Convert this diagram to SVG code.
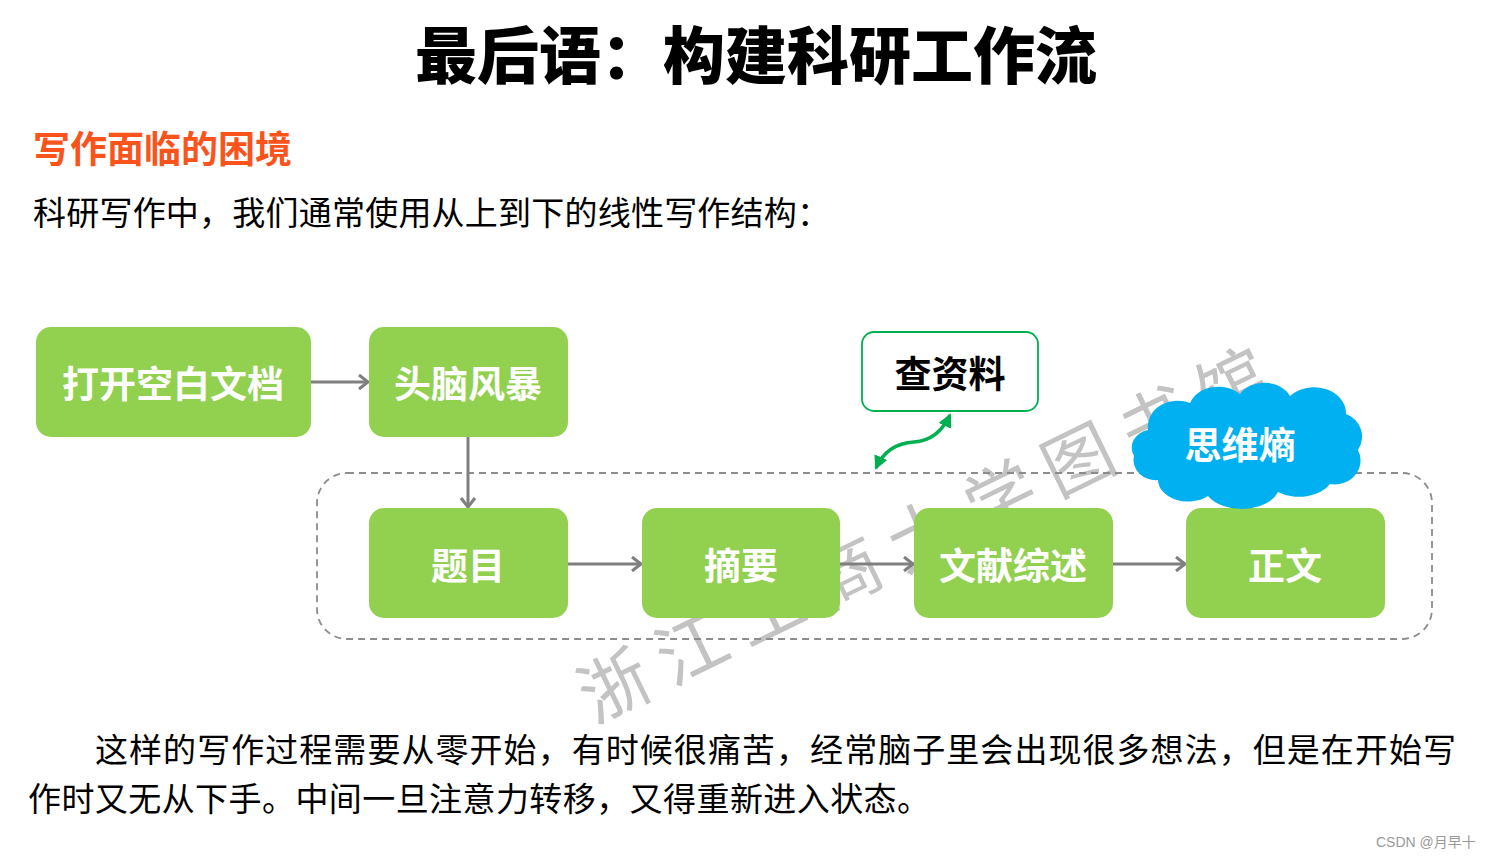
<svg xmlns="http://www.w3.org/2000/svg" width="1491" height="858" viewBox="0 0 1491 858">
<defs>
<style>
.cjk{font-family:"Noto Sans CJK SC","Noto Sans",sans-serif;}
.node rect{fill:#92D050;}
.nt{font-family:"Noto Sans CJK SC",sans-serif;font-weight:bold;font-size:37px;fill:#ffffff;text-anchor:middle;dominant-baseline:central;}
.conn{stroke:#7F7F7F;stroke-width:3;fill:none;}
</style>
<marker id="arr" markerUnits="userSpaceOnUse" markerWidth="16" markerHeight="18" refX="13" refY="9" orient="auto">
<path d="M4,2 L13,9 L4,16" fill="none" stroke="#7F7F7F" stroke-width="3" stroke-linejoin="miter"/>
</marker>
<marker id="garr" markerUnits="userSpaceOnUse" markerWidth="16" markerHeight="16" refX="12" refY="8" orient="auto-start-reverse">
<path d="M0,1 L14,8 L0,15 Z" fill="#00B050"/>
</marker>
</defs>
<rect width="1491" height="858" fill="#ffffff"/>

<text class="cjk" x="756" y="52" font-size="62" font-weight="900" text-anchor="middle" dominant-baseline="central" fill="#000">最后语：构建科研工作流</text>
<text class="cjk" x="33" y="147" font-size="37" font-weight="bold" dominant-baseline="central" fill="#FA541C">写作面临的困境</text>
<text class="cjk" x="33" y="211" font-size="33" dominant-baseline="central" fill="#000" textLength="797" lengthAdjust="spacing">科研写作中，我们通常使用从上到下的线性写作结构：</text>

<text class="cjk" x="0" y="0" font-size="70" fill="#C3C3C3" letter-spacing="16" transform="translate(594,724) rotate(-26)">浙江工商大学图书馆</text>

<rect x="317" y="473" width="1115" height="166" rx="30" fill="none" stroke="#8C8C8C" stroke-width="1.8" stroke-dasharray="7,5"/>

<g id="connectors">
<line class="conn" x1="311" y1="382" x2="368" y2="382" marker-end="url(#arr)"/>
<line class="conn" x1="468" y1="437" x2="468" y2="507" marker-end="url(#arr)"/>
<line class="conn" x1="568" y1="564" x2="641" y2="564" marker-end="url(#arr)"/>
<line class="conn" x1="840" y1="564" x2="913" y2="564" marker-end="url(#arr)"/>
<line class="conn" x1="1113" y1="564" x2="1185" y2="564" marker-end="url(#arr)"/>
<path d="M876,468 C884,450 897,443 914,442 C930,441 942,432 950,415" fill="none" stroke="#00B050" stroke-width="3.5" marker-start="url(#garr)" marker-end="url(#garr)"/>
</g>

<g id="n1" class="node"><rect x="36" y="327" width="275" height="110" rx="15"/><text class="nt" x="173" y="382">打开空白文档</text></g>
<g id="n2" class="node"><rect x="369" y="327" width="199" height="110" rx="15"/><text class="nt" x="468" y="382">头脑风暴</text></g>
<g id="n3" class="node"><rect x="369" y="508" width="199" height="110" rx="15"/><text class="nt" x="468" y="564">题目</text></g>
<g id="n4" class="node"><rect x="642" y="508" width="198" height="110" rx="15"/><text class="nt" x="741" y="564">摘要</text></g>
<g id="n5" class="node"><rect x="914" y="508" width="199" height="110" rx="15"/><text class="nt" x="1013" y="564">文献综述</text></g>
<g id="n6" class="node"><rect x="1186" y="508" width="199" height="110" rx="15"/><text class="nt" x="1285" y="564">正文</text></g>

<g id="n7"><rect x="862" y="332" width="176" height="79" rx="12" fill="#ffffff" stroke="#00B050" stroke-width="1.8"/><text class="nt" x="950" y="372" style="fill:#000">查资料</text></g>

<g id="n8">
<path d="M1148,430 A30,26 0 0 1 1190,403 A30,24 0 0 1 1240,394 A28,22 0 0 1 1290,396 A32,26 0 0 1 1346,414 A24,24 0 0 1 1358,450 A26,24 0 0 1 1330,484 A34,22 0 0 1 1278,492 A38,24 0 0 1 1208,496 A30,22 0 0 1 1158,480 A22,20 0 0 1 1134,456 A20,18 0 0 1 1148,430 Z" fill="#00B0F0"/>
<text class="nt" x="1240" y="443">思维熵</text>
</g>

<text class="cjk" x="95" y="748" font-size="33" dominant-baseline="central" fill="#000" textLength="1361" lengthAdjust="spacing">这样的写作过程需要从零开始，有时候很痛苦，经常脑子里会出现很多想法，但是在开始写</text>
<text class="cjk" x="28" y="797" font-size="33" dominant-baseline="central" fill="#000" textLength="902" lengthAdjust="spacing">作时又无从下手。中间一旦注意力转移，又得重新进入状态。</text>

<text x="1376" y="842" font-family="'Liberation Sans','Noto Sans CJK SC',sans-serif" font-size="14" dominant-baseline="central" fill="#999999">CSDN @月早十</text>
</svg>
